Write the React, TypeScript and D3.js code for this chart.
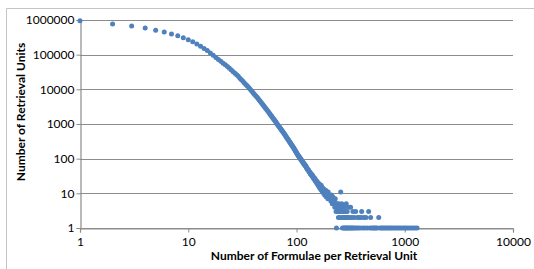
import * as d3 from "d3";
import { useEffect, useRef } from "react";

// number of retrieval units for n = 1..200 formulae
const headCounts = [
  955000, 767000, 676000, 588000, 505000, 450000, 395000, 350000, 309000, 269000,
  234000, 204000, 174000, 151000, 132000, 112000, 96000, 82800, 72400, 64600,
  57000, 50900, 45500, 40900, 36300, 32400, 29200, 26300, 23700, 20900,
  18800, 17000, 15300, 13800, 12600, 11400, 10400, 9420, 8590, 7760,
  7080, 6530, 5980, 5500, 5010, 4570, 4220, 3890, 3590, 3310,
  3050, 2820, 2620, 2430, 2240, 2070, 1920, 1790, 1660, 1550,
  1445, 1350, 1260, 1175, 1100, 1020, 955, 890, 840, 795,
  750, 705, 660, 625, 590, 555, 525, 495, 465, 437,
  415, 390, 369, 351, 331, 314, 295, 282, 267, 251,
  240, 228, 217, 206, 195, 183, 176, 165, 158, 147,
  140, 134, 128, 122, 117, 112, 108, 103, 99, 95,
  92, 86, 86, 80, 79, 73, 73, 68, 68, 64,
  63, 61, 57, 56, 52, 50, 49, 46, 47, 44,
  42, 41, 40, 37, 38, 35, 36, 33, 32, 34,
  30, 31, 29, 27, 28, 26, 25, 27, 23, 24,
  22, 23, 21, 20, 22, 19, 18, 20, 17, 18,
  16, 19, 15, 17, 14, 16, 15, 13, 17, 14,
  12, 15, 13, 11, 14, 12, 13, 10, 12, 11,
  13, 9, 12, 10, 11, 9, 12, 8, 10, 11,
  9, 8, 10, 9, 7, 11, 8, 9, 7, 8,
];

// sparse tail beyond 200 formulae
const tailX = [
  202, 204, 206, 208, 210, 212, 214, 216, 218, 220,
  222, 224, 226, 228, 230, 232, 234, 236, 238, 240,
  242, 244, 246, 248, 250, 252, 254, 256, 258, 260,
  262, 264, 266, 268, 270, 272, 274, 276, 278, 280,
  282, 284, 286, 288, 290, 292, 294, 297, 300, 303,
  306, 309, 312, 316, 320, 324, 328, 332, 336, 340,
  345, 352, 358, 364, 370, 378, 386, 394, 400, 408,
  418, 428, 438, 450, 464, 476, 484, 496, 510, 526,
  540, 556, 575, 590, 610, 630, 650, 672, 695, 720,
  745, 770, 800, 830, 862, 895, 930, 968, 1005, 1045,
  1090, 1140, 1190, 1245, 1300,
];
const tailCounts = [
  9, 7, 8, 6, 9, 7, 5, 8, 6, 7,
  5, 6, 4, 7, 5, 3, 1, 4, 5, 3,
  4, 2, 5, 3, 4, 2, 3, 11, 4, 2,
  5, 3, 1, 4, 2, 3, 1, 2, 4, 1,
  3, 2, 1, 5, 2, 1, 3, 1, 2, 4,
  1, 2, 1, 4, 1, 2, 1, 3, 1, 2,
  1, 3, 1, 2, 1, 2, 1, 2, 3, 1,
  2, 1, 2, 1, 3, 1, 2, 1, 1, 1,
  1, 1, 2, 1, 1, 1, 1, 1, 1, 1,
  1, 1, 1, 1, 1, 1, 1, 1, 1, 1,
  1, 1, 1, 1, 1,
];

const xTicks = [1, 10, 100, 1000, 10000];
const yTicks = [1, 10, 100, 1000, 10000, 100000, 1000000];

const W = 534;
const H = 269;
const FONT = "Lato, 'Open Sans', sans-serif";

const App = () => {
  const ref = useRef<SVGSVGElement>(null);

  useEffect(() => {
    const svg = d3.select(ref.current);
    svg.selectAll("*").remove();

    const left = 80, right = 513, top = 20, bottom = 228;

    const x = d3.scaleLog().domain([1, 10000]).range([left, right]);
    const y = d3.scaleLog().domain([1, 1000000]).range([bottom, top]);

    // outer chart frame (only top and left visible)
    svg.append("line")
      .attr("x1", 6.5).attr("x2", W).attr("y1", 8.5).attr("y2", 8.5)
      .attr("stroke", "#c4c4c4");
    svg.append("line")
      .attr("x1", 6.5).attr("x2", 6.5).attr("y1", 8.5).attr("y2", H)
      .attr("stroke", "#c4c4c4");

    // gridlines
    svg.append("g")
      .selectAll("line")
      .data(yTicks)
      .enter()
      .append("line")
      .attr("x1", left).attr("x2", right)
      .attr("y1", (d) => Math.round(y(d)) + 0.5)
      .attr("y2", (d) => Math.round(y(d)) + 0.5)
      .attr("stroke", "#8c8c8c")
      .attr("stroke-width", 1.2);

    const yAxis = d3.axisLeft(y)
      .tickValues(yTicks)
      .tickFormat(d3.format("d"))
      .tickSize(4)
      .tickPadding(2);
    const gy = svg.append("g")
      .attr("transform", `translate(${left + 0.5},0)`)
      .call(yAxis);

    const xAxis = d3.axisBottom(x)
      .tickValues(xTicks)
      .tickFormat(d3.format("d"))
      .tickSize(4)
      .tickPadding(5);
    const gx = svg.append("g")
      .attr("transform", `translate(0,${bottom + 0.5})`)
      .call(xAxis);

    [gx, gy].forEach((g) => {
      g.select(".domain").attr("stroke", "#8c8c8c").attr("stroke-width", 1.2);
      g.selectAll(".tick line").attr("stroke", "#8c8c8c");
      g.selectAll(".tick text")
        .attr("fill", "#000")
        .style("font-family", FONT)
        .style("font-size", "12px");
    });

    const points = headCounts
      .map((c, i) => [i + 1, c])
      .concat(tailX.map((n, i) => [n, tailCounts[i]]));

    svg.append("g")
      .selectAll("circle")
      .data(points)
      .enter()
      .append("circle")
      .attr("cx", (d) => x(d[0]))
      .attr("cy", (d) => y(d[1]))
      .attr("r", 2.5)
      .attr("fill", "#4f81bd");

    // axis titles
    svg.append("text")
      .attr("x", 314)
      .attr("y", 260)
      .attr("text-anchor", "middle")
      .style("font-family", FONT)
      .style("font-size", "12px")
      .style("font-weight", "bold")
      .text("Number of Formulae per Retrieval Unit");

    svg.append("text")
      .attr("transform", "translate(25,112) rotate(-90)")
      .attr("text-anchor", "middle")
      .style("font-family", FONT)
      .style("font-size", "12px")
      .style("font-weight", "bold")
      .text("Number of Retrieval Units");
  }, []);

  return (
    <svg
      ref={ref}
      width={W}
      height={H}
      style={{ position: "absolute", left: 0, top: 0, background: "#fff" }}
    />
  );
};

export default App;
